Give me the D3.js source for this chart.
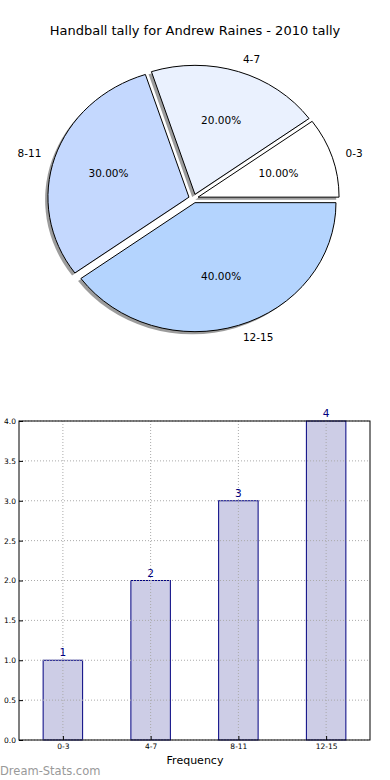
<!DOCTYPE html>
<html>
<head>
<meta charset="utf-8">
<script src="https://cdn.jsdelivr.net/npm/d3@7"></script>
<style>
  body { margin: 0; background: #fff; }
  svg { display: block; font-family: "DejaVu Sans", sans-serif; }
</style>
</head>
<body>
<div id="chart"></div>
<script>
// chart data
const categories = ['0-3', '4-7', '8-11', '12-15'];
const counts = [1, 2, 3, 4];
const sliceColors = ['#ffffff', '#eaf1fe', '#c4d8fe', '#b4d4fe'];
const yTicks = [0, 0.5, 1, 1.5, 2, 2.5, 3, 3.5, 4];
const title = 'Handball tally for Andrew Raines - 2010 tally';

const width = 390, height = 780;
const svg = d3.select('#chart').append('svg')
    .attr('width', width)
    .attr('height', height);

svg.append('text')
    .attr('x', 195).attr('y', 35)
    .attr('text-anchor', 'middle')
    .style('font-size', '13px')
    .text(title);

// ---- pie (matplotlib style: ccw from 3 o'clock, ellipse, exploded, shadow)
const cx = 193.5, cy = 198.5, rx = 141, ry = 129;
const explode = 0.034;
const total = d3.sum(counts);

const pie = d3.pie().sort(null)
    .startAngle(Math.PI / 2)
    .endAngle(Math.PI / 2 - 2 * Math.PI);
const arcs = pie(counts);
const arc = d3.arc().innerRadius(0).outerRadius(rx);

function mid(d) { return (d.startAngle + d.endAngle) / 2; }
function offset(d, k) {
    const a = mid(d);
    return [rx * k * Math.sin(a), -ry * k * Math.cos(a)];
}

const pieG = svg.append('g');

// shadows first
pieG.selectAll('path.shadow')
    .data(arcs)
    .join('path')
    .attr('class', 'shadow')
    .attr('d', arc)
    .attr('fill', '#3a3a3a')
    .attr('fill-opacity', 0.5)
    .attr('transform', d => {
        const [ox, oy] = offset(d, explode);
        return `translate(${cx + ox - 0.02 * rx},${cy + oy + 0.02 * ry}) scale(1,${ry / rx})`;
    });

pieG.selectAll('path.wedge')
    .data(arcs)
    .join('path')
    .attr('class', 'wedge')
    .attr('d', arc)
    .attr('fill', (d, i) => sliceColors[i])
    .attr('stroke', '#000')
    .attr('stroke-width', 1)
    .attr('vector-effect', 'non-scaling-stroke')
    .attr('transform', d => {
        const [ox, oy] = offset(d, explode);
        return `translate(${cx + ox},${cy + oy}) scale(1,${ry / rx})`;
    });

// outer labels
pieG.selectAll('text.lbl')
    .data(arcs)
    .join('text')
    .attr('class', 'lbl')
    .attr('x', d => cx + offset(d, explode)[0] + offset(d, 1.1)[0])
    .attr('y', d => cy + offset(d, explode)[1] + offset(d, 1.1)[1])
    .attr('dy', '0.35em')
    .attr('text-anchor', d => Math.sin(mid(d)) > 0 ? 'start' : 'end')
    .style('font-size', '10.5px')
    .text((d, i) => categories[i]);

// percentages
pieG.selectAll('text.pct')
    .data(arcs)
    .join('text')
    .attr('class', 'pct')
    .attr('x', d => cx + offset(d, explode)[0] + offset(d, 0.6)[0])
    .attr('y', d => cy + offset(d, explode)[1] + offset(d, 0.6)[1])
    .attr('dy', '0.35em')
    .attr('text-anchor', 'middle')
    .style('font-size', '10.5px')
    .text(d => (d.value / total * 100).toFixed(2) + '%');

// ---- bar chart
const plotL = 19, plotR = 370, plotT = 421, plotB = 740;
const x = d3.scaleLinear().domain([-0.5, 3.5]).range([plotL, plotR]);
const y = d3.scaleLinear().domain([0, 4]).range([plotB, plotT]);
const barW = 0.45;

const barG = svg.append('g');

barG.selectAll('rect.bar')
    .data(counts)
    .join('rect')
    .attr('class', 'bar')
    .attr('x', (d, i) => x(i - barW / 2))
    .attr('width', x(barW) - x(0))
    .attr('y', d => y(d))
    .attr('height', d => y(0) - y(d))
    .attr('fill', '#cdcde6')
    .attr('stroke', '#000080')
    .attr('stroke-width', 1);

// grid
barG.selectAll('line.hgrid')
    .data(yTicks)
    .join('line')
    .attr('x1', plotL).attr('x2', plotR)
    .attr('y1', d => y(d)).attr('y2', d => y(d))
    .attr('stroke', '#aaa')
    .attr('stroke-dasharray', '1,2');
barG.selectAll('line.vgrid')
    .data(categories)
    .join('line')
    .attr('x1', (d, i) => x(i)).attr('x2', (d, i) => x(i))
    .attr('y1', plotT).attr('y2', plotB)
    .attr('stroke', '#aaa')
    .attr('stroke-dasharray', '1,2');

// value labels
barG.selectAll('text.val')
    .data(counts)
    .join('text')
    .attr('x', (d, i) => x(i))
    .attr('y', d => y(d) - 4)
    .attr('text-anchor', 'middle')
    .attr('fill', '#000080')
    .style('font-size', '10.5px')
    .text(d => d);

// frame
barG.append('rect')
    .attr('x', plotL).attr('y', plotT)
    .attr('width', plotR - plotL).attr('height', plotB - plotT)
    .attr('fill', 'none')
    .attr('stroke', '#000');

// axes
const yAxis = d3.axisLeft(y).tickValues(yTicks).tickFormat(d3.format('.1f'))
    .tickSizeInner(-4).tickSizeOuter(0).tickPadding(3);
const yG = barG.append('g').attr('transform', `translate(${plotL},0)`).call(yAxis);
const xAxis = d3.axisBottom(x).tickValues([0, 1, 2, 3])
    .tickFormat(i => categories[i])
    .tickSizeInner(-4).tickSizeOuter(0).tickPadding(4);
const xG = barG.append('g').attr('transform', `translate(0,${plotB})`).call(xAxis);
[yG, xG].forEach(g => {
    g.select('.domain').remove();
    g.selectAll('text').style('font-size', '7.5px').style('font-family', '"DejaVu Sans", sans-serif');
});

barG.append('text')
    .attr('x', 195).attr('y', 764)
    .attr('text-anchor', 'middle')
    .style('font-size', '11px')
    .text('Frequency');

svg.append('text')
    .attr('x', 0).attr('y', 775)
    .attr('fill', '#999')
    .style('font-size', '11.5px')
    .text('Dream-Stats.com');
</script>
</body>
</html>
